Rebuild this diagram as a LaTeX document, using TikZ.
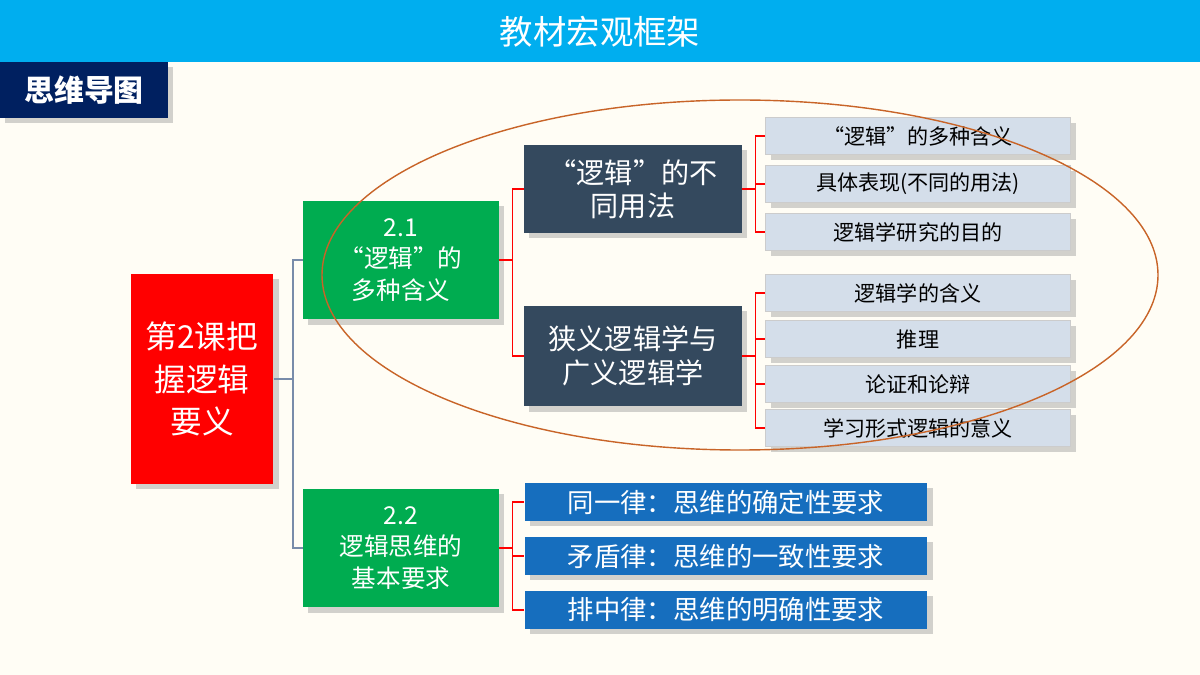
\documentclass[tikz,border=0pt]{standalone}
\usepackage{fontspec}
\setmainfont{Noto Sans CJK SC}
\usetikzlibrary{positioning,shadows}
\definecolor{barblue}{RGB}{0,174,239}
\definecolor{navy}{RGB}{0,32,96}
\definecolor{slate}{RGB}{52,73,94}
\definecolor{pale}{RGB}{212,222,234}
\definecolor{midblue}{RGB}{22,110,190}
\definecolor{leafgreen}{RGB}{0,172,80}
\definecolor{bgcream}{RGB}{255,253,245}
\definecolor{ringorange}{RGB}{200,100,40}
\definecolor{linkgray}{RGB}{120,140,170}
\tikzset{
  box/.style={inner sep=0pt, align=center, text=white, drop shadow={shadow xshift=3pt, shadow yshift=-3pt, opacity=0.35}},
  lesson/.style={box, fill=red, minimum width=2.86cm, minimum height=4.2cm, font=\fontsize{18}{24}\selectfont},
  unit/.style={box, fill=leafgreen, minimum width=3.92cm, minimum height=2.38cm, font=\fontsize{14}{18}\selectfont},
  topic/.style={box, fill=slate, minimum width=4.36cm, font=\fontsize{16}{19}\selectfont},
  item/.style={box, fill=pale, text=black, draw=gray!40, minimum width=6.1cm, minimum height=0.74cm, font=\fontsize{12}{13}\selectfont},
  law/.style={box, fill=midblue, minimum width=8.06cm, minimum height=0.76cm, font=\fontsize{15}{17}\selectfont},
  grayline/.style={linkgray, thick},
  redline/.style={red, thick}
}
\begin{document}
\begin{tikzpicture}[x=0.02cm,y=-0.02cm]
    \fill[bgcream] (0,0) rectangle (1200,675);
    \useasboundingbox (0,0) rectangle (1200,675);

    % Title bar
    \fill[barblue] (0,0) rectangle (1200,62);
    \node[text=white, font=\fontsize{19}{20}\selectfont] (title) at (600,32) {教材宏观框架};
    \node[box, fill=navy, minimum width=3.36cm, minimum height=1.12cm, font=\bfseries\fontsize{17}{18}\selectfont] (mindmap) at (84,90) {思维导图};

    % Main nodes
    \node[lesson] (lesson) at (202,379) {第2课把\\握逻辑\\要义};
    \node[unit] (unitA) at (401,260) {2.1\\“逻辑”的\\多种含义};
    \node[unit] (unitB) at (401,548) {2.2\\逻辑思维的\\基本要求};

    \node[topic, minimum height=1.76cm] (usage) at (633,189) {“逻辑”的不\\同用法};
    \node[topic, minimum height=2.02cm] (narrow) at (633,356) {狭义逻辑学与\\广义逻辑学};

    % Items
    \node[item] (i1) at (918,136) {“逻辑”的多种含义};
    \node[item] (i2) at (918,184) {具体表现(不同的用法)};
    \node[item] (i3) at (918,232) {逻辑学研究的目的};
    \node[item] (i4) at (918,293) {逻辑学的含义};
    \node[item] (i5) at (918,339) {推理};
    \node[item] (i6) at (918,384) {论证和论辩};
    \node[item] (i7) at (918,428) {学习形式逻辑的意义};

    \node[law] (law1) at (726,502) {同一律：思维的确定性要求};
    \node[law] (law2) at (726,556) {矛盾律：思维的一致性要求};
    \node[law] (law3) at (726,610) {排中律：思维的明确性要求};

    % Brackets
    \foreach \t in {unitA,unitB}
        \draw[grayline] (lesson.east) -- ++(19,0) |- (\t.west);
    \foreach \t in {usage,narrow}
        \draw[redline] (unitA.east) -- ++(13,0) |- (\t.west);
    \foreach \t in {i1,i2,i3}
        \draw[redline] (usage.east) -- ++(13,0) |- (\t.west);
    \foreach \t in {i4,i5,i6,i7}
        \draw[redline] (narrow.east) -- ++(13,0) |- (\t.west);
    \foreach \t in {law1,law2,law3}
        \draw[redline] (unitB.east) -- ++(13,0) |- (\t.west);

    % Ring round 2.1
    \draw[ringorange, thick] (740,275) ellipse [x radius=418, y radius=175];
\end{tikzpicture}
\end{document}
